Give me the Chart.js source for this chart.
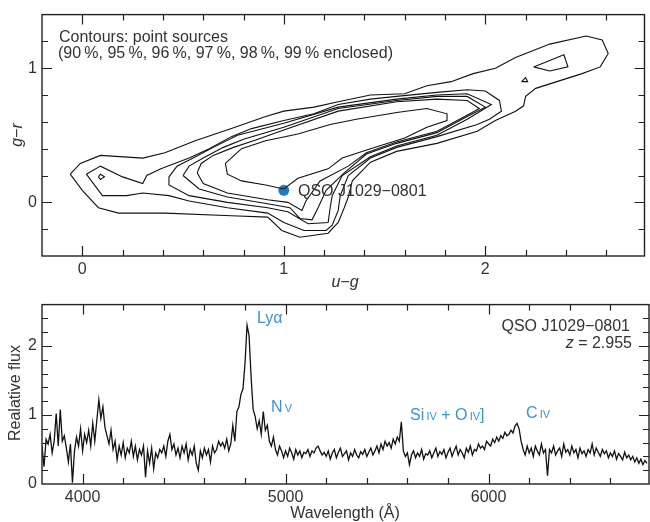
<!DOCTYPE html>
<html>
<head>
<meta charset="utf-8">
<script src="https://cdn.jsdelivr.net/npm/chart.js@4.4.0/dist/chart.umd.min.js"></script>
<style>
  html, body { margin: 0; padding: 0; background: #fff; }
  #wrap { position: relative; width: 650px; height: 522px; }
  .panel { position: absolute; left: 0; width: 650px; }
  #top-box { top: 0; height: 290px; }
  #bottom-box { top: 290px; height: 232px; }
</style>
</head>
<body>
<div id="wrap">
  <div class="panel" id="top-box"><canvas id="colour-canvas"></canvas></div>
  <div class="panel" id="bottom-box"><canvas id="spec-canvas"></canvas></div>
</div>
<script>
// ---- colour-colour contours, [u-g, g-r] ----
const contour99 = [[-0.06,0.21],[-0.01,0.29],[0.09,0.35],[0.30,0.33],[0.41,0.37],[0.56,0.46],[0.74,0.55],[0.91,0.64],[1.00,0.68],[1.15,0.71],[1.27,0.75],[1.43,0.80],[1.60,0.81],[1.71,0.87],[1.83,0.90],[1.94,0.96],[2.05,1.00],[2.15,1.08],[2.32,1.18],[2.50,1.24],[2.58,1.21],[2.61,1.11],[2.57,1.01],[2.48,0.96],[2.25,0.85],[2.20,0.79],[2.19,0.72],[2.15,0.68],[2.05,0.61],[1.96,0.53],[1.76,0.44],[1.56,0.38],[1.43,0.30],[1.34,0.16],[1.32,0.04],[1.30,-0.04],[1.27,-0.15],[1.22,-0.23],[1.08,-0.26],[0.99,-0.21],[0.92,-0.11],[0.74,-0.10],[0.41,-0.08],[0.18,-0.08],[0.08,-0.04],[0.00,0.09]];
const contour98 = [[0.02,0.21],[0.09,0.27],[0.20,0.19],[0.30,0.14],[0.32,0.20],[0.39,0.25],[0.53,0.33],[0.63,0.40],[0.74,0.49],[0.84,0.55],[1.00,0.61],[1.15,0.66],[1.27,0.73],[1.43,0.77],[1.56,0.79],[1.76,0.82],[1.91,0.84],[2.00,0.83],[2.07,0.76],[2.08,0.68],[2.02,0.62],[1.96,0.58],[1.76,0.49],[1.56,0.41],[1.43,0.33],[1.32,0.20],[1.28,0.05],[1.27,-0.06],[1.24,-0.17],[1.21,-0.21],[1.10,-0.21],[1.00,-0.15],[0.92,-0.08],[0.72,-0.04],[0.53,0.01],[0.43,0.05],[0.30,0.07],[0.22,0.05],[0.10,0.05]];
const contour97 = [[0.43,0.19],[0.47,0.27],[0.55,0.33],[0.65,0.41],[0.77,0.50],[1.00,0.59],[1.27,0.71],[1.56,0.77],[1.76,0.80],[1.91,0.81],[2.03,0.73],[1.91,0.62],[1.76,0.50],[1.56,0.42],[1.43,0.34],[1.29,0.20],[1.24,0.05],[1.23,-0.04],[1.22,-0.15],[1.12,-0.16],[1.02,-0.07],[0.92,-0.04],[0.72,0.00],[0.53,0.05],[0.43,0.13]];
const contour96 = [[0.50,0.20],[0.53,0.27],[0.60,0.33],[0.70,0.41],[0.80,0.47],[1.00,0.56],[1.27,0.70],[1.56,0.76],[1.76,0.79],[1.91,0.79],[2.00,0.71],[1.91,0.64],[1.76,0.52],[1.56,0.44],[1.41,0.36],[1.30,0.22],[1.21,0.09],[1.17,-0.04],[1.14,-0.13],[1.08,-0.12],[1.03,-0.04],[0.92,-0.01],[0.72,0.04],[0.58,0.10]];
const contour95 = [[0.57,0.22],[0.59,0.29],[0.65,0.35],[0.75,0.41],[0.85,0.46],[1.00,0.54],[1.27,0.68],[1.56,0.75],[1.76,0.77],[1.91,0.76],[1.97,0.70],[1.91,0.65],[1.76,0.53],[1.56,0.45],[1.41,0.37],[1.32,0.27],[1.18,0.16],[1.11,0.01],[1.09,-0.06],[1.02,0.00],[0.92,0.02],[0.72,0.07],[0.60,0.14]];
const contour90 = [[0.71,0.29],[0.79,0.40],[0.91,0.46],[1.07,0.51],[1.23,0.58],[1.36,0.62],[1.56,0.67],[1.71,0.70],[1.81,0.66],[1.81,0.61],[1.71,0.56],[1.60,0.48],[1.43,0.40],[1.29,0.33],[1.22,0.25],[1.07,0.18],[1.00,0.10],[0.91,0.13],[0.79,0.16],[0.72,0.21]];
// small closed islands
const islandLeft = [[0.08,0.19],[0.09,0.21],[0.11,0.19],[0.09,0.17]];
const islandRight = [[2.24,1.01],[2.39,1.10],[2.41,1.01],[2.32,0.98]];
const islandTiny = [[2.18,0.90],[2.20,0.93],[2.21,0.90]];

const qsoColour = [1.00, 0.09];

// tick positions (labels only on whole numbers / thousands)
const ugTicks = [0, 0.2, 0.4, 0.6, 0.8, 1, 1.2, 1.4, 1.6, 1.8, 2, 2.2, 2.4, 2.6];
const grTicks = [-0.2, 0, 0.2, 0.4, 0.6, 0.8, 1, 1.2];
const waveTicks = [4000, 4200, 4400, 4600, 4800, 5000, 5200, 5400, 5600, 5800, 6000, 6200, 6400, 6600];
const fluxTicks = [0.2, 0.4, 0.6, 0.8, 1, 1.2, 1.4, 1.6, 1.8, 2, 2.2, 2.4];

// ---- spectrum: 10 A bins from 3800 A ----
const specStart = 3800;
const specStep = 10;
const relFlux = [
  0.55,0.25,0.65,0.58,0.72,0.45,0.62,1.02,0.55,1.08,
  0.62,0.70,0.52,0.32,0.58,0.02,0.48,0.68,0.55,0.80,
  0.48,0.72,0.60,0.78,0.55,0.88,0.62,0.92,1.22,0.95,
  1.12,0.82,0.70,0.58,0.78,0.50,0.62,0.35,0.55,0.42,
  0.60,0.38,0.52,0.45,0.62,0.40,0.55,0.35,0.50,0.42,
  0.55,0.10,0.48,0.30,0.52,0.22,0.45,0.38,0.50,0.45,
  0.55,0.40,0.62,0.72,0.50,0.58,0.42,0.52,0.38,0.55,
  0.45,0.58,0.35,0.50,0.42,0.55,0.30,0.20,0.48,0.38,
  0.52,0.42,0.50,0.32,0.55,0.45,0.50,0.62,0.55,0.60,
  0.52,0.65,0.48,0.58,0.85,0.62,1.05,1.12,1.30,1.38,
  1.75,2.30,2.15,1.55,1.08,0.98,0.80,0.92,0.72,1.05,
  0.78,0.85,0.62,0.55,0.68,0.50,0.42,0.55,0.48,0.38,
  0.48,0.40,0.52,0.45,0.36,0.50,0.42,0.48,0.38,0.46,
  0.44,0.50,0.40,0.48,0.45,0.52,0.55,0.48,0.42,0.46,
  0.40,0.48,0.36,0.45,0.50,0.38,0.46,0.52,0.40,0.44,
  0.48,0.35,0.45,0.40,0.50,0.42,0.38,0.47,0.43,0.50,
  0.40,0.46,0.52,0.42,0.48,0.55,0.45,0.58,0.50,0.62,
  0.55,0.60,0.52,0.65,0.58,0.68,0.62,0.90,0.48,0.40,
  0.45,0.28,0.42,0.48,0.38,0.45,0.40,0.50,0.36,0.44,
  0.42,0.48,0.38,0.45,0.52,0.40,0.47,0.43,0.50,0.38,
  0.46,0.52,0.40,0.48,0.55,0.42,0.50,0.45,0.38,0.52,
  0.46,0.55,0.42,0.50,0.48,0.58,0.52,0.55,0.50,0.62,
  0.58,0.55,0.65,0.60,0.68,0.62,0.70,0.66,0.75,0.70,
  0.72,0.78,0.74,0.84,0.88,0.80,0.62,0.50,0.42,0.55,
  0.45,0.52,0.40,0.55,0.48,0.42,0.58,0.45,0.50,0.12,
  0.50,0.45,0.55,0.42,0.48,0.52,0.40,0.58,0.46,0.50,
  0.42,0.55,0.45,0.50,0.38,0.52,0.44,0.48,0.40,0.50,
  0.45,0.58,0.42,0.52,0.46,0.40,0.50,0.44,0.48,0.38,
  0.45,0.40,0.48,0.36,0.44,0.40,0.35,0.46,0.38,0.42,
  0.35,0.40,0.32,0.38,0.30,0.36,0.28,0.34,0.30
];

const FONT = '"Liberation Sans", Arial, Helvetica, sans-serif';
const INK = '#333';
const BLUE = '#3b93d1';

const intLabel = v => Math.abs(v - Math.round(v)) < 1e-6 ? String(Math.round(v)) : '';
const kiloLabel = v => v % 1000 === 0 ? String(v) : '';
const loop = pts => pts.concat([pts[0]]).map(p => ({ x: p[0], y: p[1] }));
const fixTicks = list => axis => { axis.ticks = list.map(v => ({ value: v })); };

// draw a run of text pieces [text, size, italic] on one baseline
function pieces(ctx, x, y, parts, align, color) {
  ctx.fillStyle = color;
  ctx.textBaseline = 'alphabetic';
  ctx.textAlign = 'left';
  const fonts = parts.map(p => (p[2] ? 'italic ' : '') + p[1] + 'px ' + FONT);
  const widths = parts.map((p, i) => { ctx.font = fonts[i]; return ctx.measureText(p[0]).width; });
  let cx = align === 'right' ? x - widths.reduce((a, b) => a + b, 0) : x;
  parts.forEach((p, i) => { ctx.font = fonts[i]; ctx.fillText(p[0], cx, y); cx += widths[i]; });
}

// frame + inward ticks on all four sides
const frameTicks = {
  id: 'frameTicks',
  afterDatasetsDraw(chart) {
    const { ctx, chartArea: a } = chart;
    const xs = chart.scales.x, ys = chart.scales.y;
    ctx.save();
    ctx.strokeStyle = '#222';
    ctx.lineWidth = 1.2;
    ctx.beginPath();
    xs.ticks.forEach(t => {
      const p = Math.round(xs.getPixelForValue(t.value)) + 0.5;
      if (p < a.left + 2 || p > a.right - 2) return;
      const len = t.label ? 10 : 6;
      ctx.moveTo(p, a.bottom); ctx.lineTo(p, a.bottom - len);
      ctx.moveTo(p, a.top); ctx.lineTo(p, a.top + len);
    });
    ys.ticks.forEach(t => {
      const p = Math.round(ys.getPixelForValue(t.value)) + 0.5;
      if (p < a.top + 2 || p > a.bottom - 2) return;
      const len = t.label ? 10 : 6;
      ctx.moveTo(a.left, p); ctx.lineTo(a.left + len, p);
      ctx.moveTo(a.right, p); ctx.lineTo(a.right - len, p);
    });
    ctx.stroke();
    ctx.lineWidth = 1.4;
    ctx.strokeRect(a.left, a.top, a.right - a.left, a.bottom - a.top);
    ctx.restore();
  }
};

const topText = {
  id: 'topText',
  afterDraw(chart) {
    const ctx = chart.ctx;
    ctx.save();
    pieces(ctx, 59, 42, [['Contours: point sources', 16]], 'left', INK);
    pieces(ctx, 58, 58, [['(90\u2009%, 95\u2009%, 96\u2009%, 97\u2009%, 98\u2009%, 99\u2009% enclosed)', 16]], 'left', INK);
    pieces(ctx, 298, 196, [['QSO J1029\u22120801', 16]], 'left', INK);
    ctx.font = 'italic 16px ' + FONT;
    ctx.fillStyle = INK;
    ctx.textAlign = 'center';
    ctx.textBaseline = 'alphabetic';
    ctx.fillText('u\u2212g', 345, 287);
    ctx.translate(22, 135);
    ctx.rotate(-Math.PI / 2);
    ctx.fillText('g\u2212r', 0, 0);
    ctx.restore();
  }
};

const bottomText = {
  id: 'bottomText',
  afterDraw(chart) {
    const ctx = chart.ctx;
    ctx.save();
    pieces(ctx, 257, 33, [['Ly\u03b1', 16]], 'left', BLUE);
    pieces(ctx, 271, 122, [['N', 16], ['\u2009V', 11]], 'left', BLUE);
    pieces(ctx, 410, 130, [['Si', 16], ['\u2009IV', 11], [' + O', 16], ['\u2009IV', 11], [']', 16]], 'left', BLUE);
    pieces(ctx, 526, 128, [['C', 16], ['\u2009IV', 11]], 'left', BLUE);
    pieces(ctx, 630, 41, [['QSO J1029\u22120801', 16]], 'right', INK);
    pieces(ctx, 632, 58, [['z', 16, true], [' = 2.955', 16]], 'right', INK);
    ctx.font = '16px ' + FONT;
    ctx.fillStyle = INK;
    ctx.textAlign = 'center';
    ctx.textBaseline = 'alphabetic';
    ctx.fillText('Wavelength (\u00c5)', 345, 228);
    ctx.translate(20, 103);
    ctx.rotate(-Math.PI / 2);
    ctx.fillText('Realative flux', 0, 0);
    ctx.restore();
  }
};

const tickFont = { family: FONT, size: 16 };

const contourSets = [contour99, contour98, contour97, contour96, contour95, contour90, islandLeft, islandRight, islandTiny]
  .map(c => ({
    data: loop(c),
    showLine: true,
    borderColor: '#111',
    borderWidth: 1.1,
    pointRadius: 0,
    tension: 0
  }));

new Chart(document.getElementById('colour-canvas'), {
  type: 'scatter',
  data: {
    datasets: contourSets.concat([{
      data: [{ x: qsoColour[0], y: qsoColour[1] }],
      pointRadius: 5.5,
      backgroundColor: '#1f7cc4',
      borderWidth: 0
    }])
  },
  options: {
    responsive: true,
    maintainAspectRatio: false,
    animation: false,
    layout: { padding: { top: 13, right: 1, left: 0, bottom: 0 } },
    plugins: { legend: { display: false }, tooltip: { enabled: false } },
    scales: {
      x: {
        type: 'linear', min: -0.2, max: 2.79,
        grid: { display: false, drawTicks: false }, border: { display: false },
        afterBuildTicks: fixTicks(ugTicks),
        afterFit: s => { s.height = 34; },
        ticks: { autoSkip: false, maxRotation: 0, padding: 4, color: INK, font: tickFont, callback: intLabel }
      },
      y: {
        type: 'linear', min: -0.4, max: 1.4,
        grid: { display: false, drawTicks: false }, border: { display: false },
        afterBuildTicks: fixTicks(grTicks),
        afterFit: s => { s.width = 42; },
        ticks: { autoSkip: false, padding: 5, color: INK, font: tickFont, callback: intLabel }
      }
    }
  },
  plugins: [frameTicks, topText]
});

new Chart(document.getElementById('spec-canvas'), {
  type: 'scatter',
  data: {
    datasets: [{
      data: relFlux.map((f, i) => ({ x: specStart + i * specStep, y: f })),
      showLine: true,
      borderColor: '#111',
      borderWidth: 1.3,
      pointRadius: 0,
      tension: 0
    }]
  },
  options: {
    responsive: true,
    maintainAspectRatio: false,
    animation: false,
    layout: { padding: { top: 12, right: 1, left: 0, bottom: 0 } },
    plugins: { legend: { display: false }, tooltip: { enabled: false } },
    scales: {
      x: {
        type: 'linear', min: 3800, max: 6790,
        grid: { display: false, drawTicks: false }, border: { display: false },
        afterBuildTicks: fixTicks(waveTicks),
        afterFit: s => { s.height = 38; },
        ticks: { autoSkip: false, maxRotation: 0, padding: 4, color: INK, font: tickFont, callback: kiloLabel }
      },
      y: {
        type: 'linear', min: 0, max: 2.6,
        grid: { display: false, drawTicks: false }, border: { display: false },
        afterBuildTicks: fixTicks([0].concat(fluxTicks)),
        afterFit: s => { s.width = 42; },
        ticks: { autoSkip: false, padding: 5, color: INK, font: tickFont, callback: intLabel }
      }
    }
  },
  plugins: [frameTicks, bottomText]
});
</script>
</body>
</html>
